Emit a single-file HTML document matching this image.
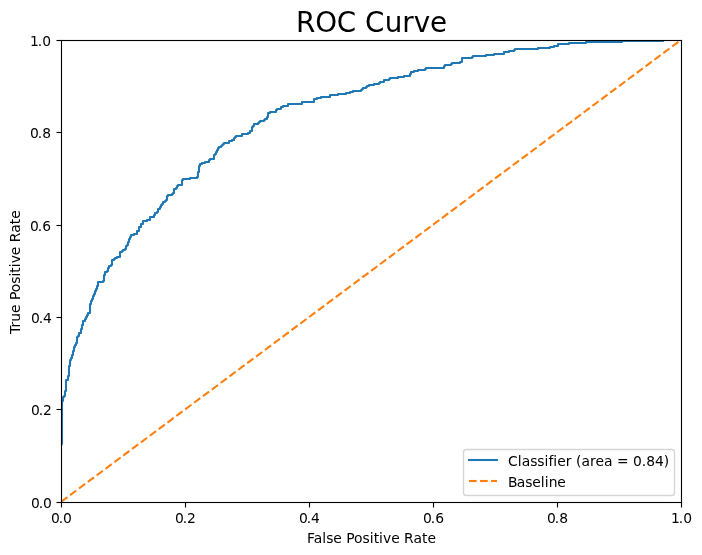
<!DOCTYPE html>
<html lang="en"><head><meta charset="utf-8"><title>ROC Curve</title>
<style>
html,body{margin:0;padding:0;background:#fff}
body{width:702px;height:555px;overflow:hidden}
svg{display:block}
text{font-family:"DejaVu Sans","Liberation Sans",sans-serif;fill:#000}
.t10{font-size:13.889px}
.t20{font-size:27.778px}
</style></head><body>
<svg width="702" height="555" viewBox="0 0 702 555">
<rect width="702" height="555" fill="#fff"/>
<defs><clipPath id="ax"><rect x="61" y="40" width="620" height="462"/></clipPath></defs>

<g clip-path="url(#ax)" fill="none">
<path d="M61,502 L61,444 L62,444 L62,401 L63,401 L63,397 L64,397 L64,396 L65,396 L65,391 L66,391 L66,380 L68,380 L68,376 L69,376 L69,366 L70,366 L70,360 L71,360 L71,358 L72,358 L72,355 L73,355 L73,351 L74,351 L74,347 L75,347 L75,345 L76,345 L76,343 L77,343 L77,337 L78,337 L78,336 L79,336 L79,333 L81,333 L81,329 L82,329 L82,325 L83,325 L83,321 L85,321 L85,319 L86,319 L86,317 L87,317 L87,315 L88,315 L88,313 L90,313 L90,304 L91,304 L91,301 L92,301 L92,299 L93,299 L93,296 L94,296 L94,294 L95,294 L95,291 L96,291 L96,289 L97,289 L97,286 L98,286 L98,282 L103,282 L103,281 L104,281 L104,275 L105,275 L105,272 L107,272 L107,271 L108,271 L108,268 L109,268 L109,266 L111,266 L111,265 L112,265 L112,260 L114,260 L114,259 L115,259 L115,258 L117,258 L117,257 L120,257 L120,252 L122,252 L122,251 L123,251 L123,250 L125,250 L125,249 L126,249 L126,246 L127,246 L127,245 L128,245 L128,242 L129,242 L129,239 L130,239 L130,237 L131,237 L131,235 L134,235 L134,234 L137,234 L137,231 L139,231 L139,227 L141,227 L141,224 L143,224 L143,221 L147,221 L147,220 L150,220 L150,217 L154,217 L154,215 L155,215 L155,213 L157,213 L157,212 L158,212 L158,209 L160,209 L160,207 L161,207 L161,205 L162,205 L162,204 L163,204 L163,202 L165,202 L165,201 L166,201 L166,200 L167,200 L167,196 L168,196 L168,195 L172,195 L172,194 L173,194 L173,193 L174,193 L174,189 L176,189 L176,188 L177,188 L177,186 L178,186 L178,185 L182,185 L182,180 L183,180 L183,179 L190,179 L190,178 L197,178 L197,177 L198,177 L198,172 L199,172 L199,166 L200,166 L200,164 L202,164 L202,163 L205,163 L205,162 L209,162 L209,160 L210,160 L210,159 L214,159 L214,155 L215,155 L215,154 L216,154 L216,152 L217,152 L217,150 L218,150 L218,148 L219,148 L219,147 L221,147 L221,146 L222,146 L222,145 L223,145 L223,144 L224,144 L224,143 L229,143 L229,141 L232,141 L232,140 L234,140 L234,138 L235,138 L235,137 L236,137 L236,136 L242,136 L242,134 L248,134 L248,133 L250,133 L250,131 L252,131 L252,127 L253,127 L253,126 L254,126 L254,124 L258,124 L258,123 L259,123 L259,122 L260,122 L260,121 L264,121 L264,120 L265,120 L265,119 L267,119 L267,117 L268,117 L268,113 L270,113 L270,112 L276,112 L276,110 L277,110 L277,109 L281,109 L281,107 L283,107 L283,106 L288,106 L288,104 L302,104 L302,102 L314,102 L314,99 L317,99 L317,98 L321,98 L321,97 L330,97 L330,95 L338,95 L338,94 L346,94 L346,93 L350,93 L350,92 L353,92 L353,91 L361,91 L361,90 L362,90 L362,89 L363,89 L363,88 L366,88 L366,87 L367,87 L367,86 L369,86 L369,85 L374,85 L374,84 L379,84 L379,83 L380,83 L380,82 L384,82 L384,80 L389,80 L389,79 L390,79 L390,78 L398,78 L398,77 L404,77 L404,76 L410,76 L410,74 L411,74 L411,72 L414,72 L414,71 L418,71 L418,70 L425,70 L425,69 L426,69 L426,68 L444,68 L444,66 L445,66 L445,65 L451,65 L451,64 L452,64 L452,63 L460,63 L460,62 L462,62 L462,58 L472,58 L472,57 L473,57 L473,56 L486,56 L486,55 L494,55 L494,54 L504,54 L504,52 L509,52 L509,51 L514,51 L514,50 L515,50 L515,49 L538,49 L538,48 L550,48 L550,47 L554,47 L554,46 L558,46 L558,44 L569,44 L569,43 L586,43 L586,42 L622,42 L622,41 L663,41 L663,40 L681,40" stroke="#1f77b4" stroke-width="2.0833" stroke-linejoin="round" stroke-linecap="square"/>
<path d="M61.28,501.72 L681.28,39.72" stroke="#ff7f0e" stroke-width="2.0833" stroke-dasharray="7.708,3.333"/>
</g>
<g fill="#000">
<rect x="60.9445" y="502.5" width="1.1111" height="5"/>
<rect x="184.9444" y="502.5" width="1.1111" height="5"/>
<rect x="308.9445" y="502.5" width="1.1111" height="5"/>
<rect x="432.9445" y="502.5" width="1.1111" height="5"/>
<rect x="556.9444" y="502.5" width="1.1111" height="5"/>
<rect x="680.9444" y="502.5" width="1.1111" height="5"/>
<rect x="56.5" y="501.9445" width="5" height="1.1111"/>
<rect x="56.5" y="408.9445" width="5" height="1.1111"/>
<rect x="56.5" y="316.9445" width="5" height="1.1111"/>
<rect x="56.5" y="224.9444" width="5" height="1.1111"/>
<rect x="56.5" y="131.9444" width="5" height="1.1111"/>
<rect x="56.5" y="39.9445" width="5" height="1.1111"/>
<rect x="60.9445" y="39.9445" width="1.1111" height="463.1111"/>
<rect x="680.9444" y="39.9445" width="1.1111" height="463.1111"/>
<rect x="60.9445" y="39.9445" width="621.1111" height="1.1111"/>
<rect x="60.9445" y="501.9445" width="621.1111" height="1.1111"/>
</g>
<text class="t10" x="51 58.75 63" y="523">0.0</text>
<text class="t10" x="175 182.75 187" y="523">0.2</text>
<text class="t10" x="299 306.75 311" y="523">0.4</text>
<text class="t10" x="423 430.75 435.25" y="523">0.6</text>
<text class="t10" x="547 554.75 559.25" y="523">0.8</text>
<text class="t10" x="671 678.75 683.25" y="523">1.0</text>
<text class="t10" x="31 38.75 43" y="508">0.0</text>
<text class="t10" x="31 38.75 43" y="415">0.2</text>
<text class="t10" x="31 38.75 43" y="323">0.4</text>
<text class="t10" x="30 37.75 42.25" y="231">0.6</text>
<text class="t10" x="30 37.75 42.25" y="138">0.8</text>
<text class="t10" x="30 37.75 42.25" y="46">1.0</text>
<text class="t10" x="307 313.75 322.25 326.25 333.25 341.75 346.25 354 362.5 369.75 373.75 379 383 391.25 399.75 404 413.5 422 427.5" y="543">False Positive Rate</text>
<text class="t10" transform="translate(20,0) rotate(-90)" x="-334 -327.5 -321.75 -313 -304.5 -300 -292.25 -283.75 -276.5 -272.75 -267.25 -263.25 -255.25 -246.5 -242.25 -232.75 -224.25 -218.75" y="0">True Positive Rate</text>
<text class="t20" x="296 315.25 336.75 356.5 365 384.75 402.25 413.75 430" y="32">ROC Curve</text>
<rect x="463.5" y="449.5" width="211" height="46" rx="2.78" ry="2.78" fill="#fff" fill-opacity="0.8" stroke="#ccc" stroke-opacity="0.8" stroke-width="1.389"/>
<rect x="468" y="458.958" width="30" height="2.0833" fill="#1f77b4"/>
<g fill="#ff7f0e"><rect x="469.000" y="479.958" width="7.708" height="2.0833"/><rect x="480.042" y="479.958" width="7.708" height="2.0833"/><rect x="491.083" y="479.958" width="5.917" height="2.0833"/></g>
<text class="t10" x="508 517.75 521.75 530.25 537.25 544.5 548.5 553.25 557.25 565.75 571.75 576 581.5 590 595.5 604 612.5 617 628.5 633 641.75 646.25 655 663.75" y="466">Classifier (area = 0.84)</text>
<text class="t10" x="508 516.75 525.25 532.25 540.75 544.75 548.75 557.25" y="487">Baseline</text>
</svg>
</body></html>
